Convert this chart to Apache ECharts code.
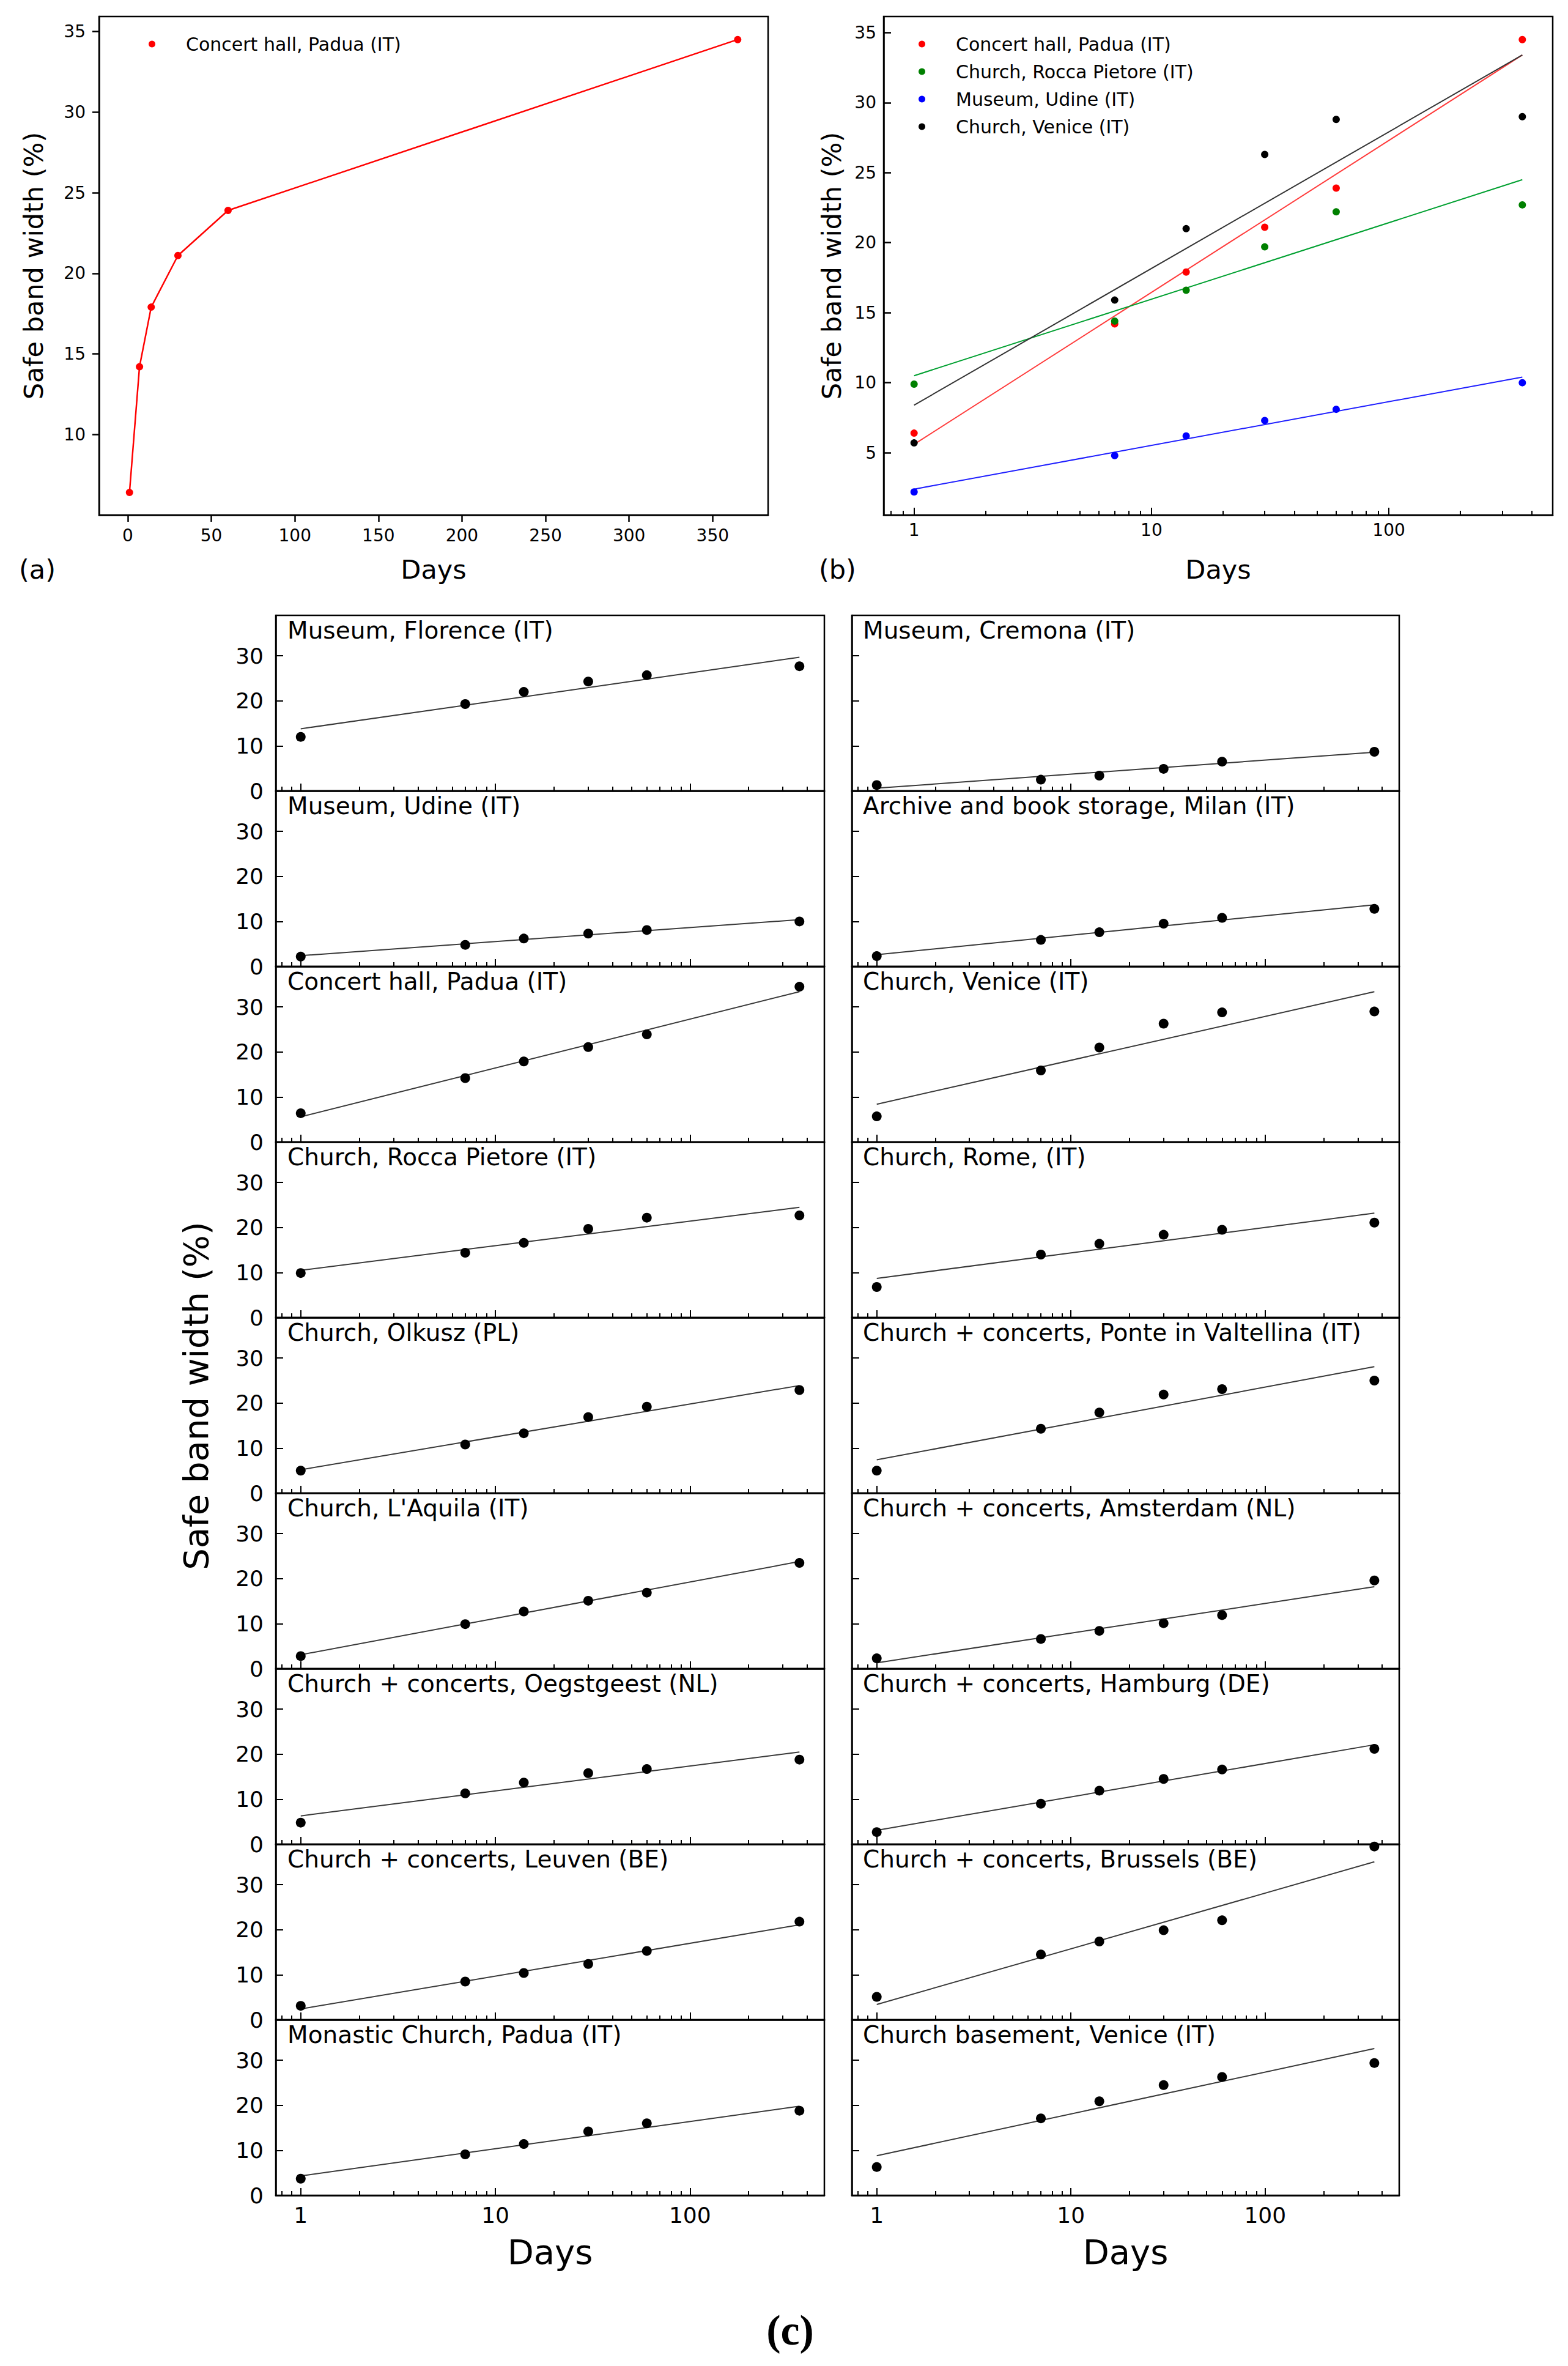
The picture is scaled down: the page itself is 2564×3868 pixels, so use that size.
<!DOCTYPE html>
<html><head><meta charset="utf-8">
<script src="https://cdn.jsdelivr.net/npm/echarts@6/dist/echarts.min.js"></script>
<style>html,body{margin:0;padding:0;background:#fff}#c{width:2564px;height:3868px}</style>
</head><body><div id="c"></div>
<script>
// ---------- data ----------
const days = [1, 7, 14, 30, 60, 365];
const fitDays = [1, 365];
const linearXTicks = [0, 50, 100, 150, 200, 250, 300, 350];
const aYTicks = [10, 15, 20, 25, 30, 35];
const bYTicks = [5, 10, 15, 20, 25, 30, 35];
const logMajorTicks = [1, 10, 100];
const logMinorTicks = [0.8, 0.9, 2, 3, 4, 5, 6, 7, 8, 9, 20, 30, 40, 50, 60, 70, 80, 90, 200, 300, 400];
const cYTicks = [0, 10, 20, 30];

// series values (safe band width, %) at each day
const paduaHall      = [6.4, 14.2, 17.9, 21.1, 23.9, 34.5];
const roccaPietore   = [9.9, 14.4, 16.6, 19.7, 22.2, 22.7];
const udineMuseum    = [2.2, 4.8, 6.2, 7.3, 8.1, 10.0];
const veniceChurch   = [5.7, 15.9, 21.0, 26.3, 28.8, 29.0];
const florence       = [12.0, 19.3, 22.0, 24.3, 25.7, 27.7];
const olkusz         = [5.0, 10.8, 13.3, 16.9, 19.2, 22.9];
const lAquila        = [2.8, 9.9, 12.7, 15.1, 16.9, 23.5];
const oegstgeest     = [4.8, 11.3, 13.7, 15.8, 16.7, 18.8];
const leuven         = [3.1, 8.5, 10.4, 12.4, 15.3, 21.8];
const monasticPadua  = [3.7, 9.1, 11.4, 14.2, 16.0, 18.8];
const cremona        = [1.3, 2.5, 3.4, 4.9, 6.5, 8.7];
const milan          = [2.3, 5.9, 7.6, 9.5, 10.8, 12.8];
const rome           = [6.8, 14.0, 16.4, 18.4, 19.5, 21.1];
const ponte          = [5.0, 14.3, 17.9, 21.9, 23.1, 25.0];
const amsterdam      = [2.3, 6.6, 8.4, 10.1, 11.9, 19.6];
const hamburg        = [2.7, 9.0, 11.9, 14.5, 16.6, 21.2];
const brussels       = [5.1, 14.5, 17.4, 19.9, 22.1, 38.5];
const veniceBasement = [6.3, 17.1, 20.9, 24.5, 26.3, 29.4];

// fitted log-lines: value at day 1 and at day 365
const paduaHallFit      = [5.6, 33.4];
const roccaPietoreFit   = [10.5, 24.5];
const udineMuseumFit    = [2.4, 10.4];
const veniceChurchFit   = [8.4, 33.4];
const florenceFit       = [13.8, 29.7];
const olkuszFit         = [5.2, 23.9];
const lAquilaFit        = [3.1, 23.8];
const oegstgeestFit     = [6.3, 20.5];
const leuvenFit         = [2.4, 21.1];
const monasticPaduaFit  = [4.3, 19.8];
const cremonaFit        = [0.6, 8.6];
const milanFit          = [2.6, 13.7];
const romeFit           = [8.7, 23.2];
const ponteFit          = [7.4, 28.1];
const amsterdamFit      = [1.3, 18.2];
const hamburgFit        = [3.1, 22.1];
const brusselsFit       = [3.4, 35.1];
const veniceBasementFit = [8.8, 32.6];

const leftPanels = [
  ['Museum, Florence (IT)', florence, florenceFit],
  ['Museum, Udine (IT)', udineMuseum, udineMuseumFit],
  ['Concert hall, Padua (IT)', paduaHall, paduaHallFit],
  ['Church, Rocca Pietore (IT)', roccaPietore, roccaPietoreFit],
  ['Church, Olkusz (PL)', olkusz, olkuszFit],
  ["Church, L'Aquila (IT)", lAquila, lAquilaFit],
  ['Church + concerts, Oegstgeest (NL)', oegstgeest, oegstgeestFit],
  ['Church + concerts, Leuven (BE)', leuven, leuvenFit],
  ['Monastic Church, Padua (IT)', monasticPadua, monasticPaduaFit]
];
const rightPanels = [
  ['Museum, Cremona (IT)', cremona, cremonaFit],
  ['Archive and book storage, Milan (IT)', milan, milanFit],
  ['Church, Venice (IT)', veniceChurch, veniceChurchFit],
  ['Church, Rome, (IT)', rome, romeFit],
  ['Church + concerts, Ponte in Valtellina (IT)', ponte, ponteFit],
  ['Church + concerts, Amsterdam (NL)', amsterdam, amsterdamFit],
  ['Church + concerts, Hamburg (DE)', hamburg, hamburgFit],
  ['Church + concerts, Brussels (BE)', brussels, brusselsFit],
  ['Church basement, Venice (IT)', veniceBasement, veniceBasementFit]
];

// ---------- layout / style ----------
const FONT = 'DejaVu Sans';
const LOG_MIN = 0.7446, LOG_MAX = 490.1;
const pts = vals => days.map((d, i) => [d, vals[i]]);
const fitPts = f => fitDays.map((d, i) => [d, f[i]]);

const grids = [], xAxes = [], yAxes = [], series = [], titles = [];
const frame = {show: true, borderColor: '#000', borderWidth: 2.5, backgroundColor: 'transparent'};
const lineBlack = {color: '#000', width: 2.5};

function logX(g, opts) {
  const idx = xAxes.length;
  xAxes.push({
    type: 'log', logBase: 10, gridIndex: g, position: 'bottom', min: LOG_MIN, max: LOG_MAX,
    axisLine: {show: true, onZero: false, lineStyle: lineBlack},
    axisTick: {show: true, inside: true, length: 12, customValues: logMajorTicks, lineStyle: {color: '#000', width: 2}},
    axisLabel: {show: opts.labels, customValues: logMajorTicks, fontSize: opts.fontSize, margin: opts.margin,
      color: '#000', fontFamily: FONT},
    minorTick: {show: false}, splitLine: {show: false},
    name: opts.name || '', nameLocation: 'middle', nameGap: opts.nameGap || 0,
    nameTextStyle: {fontSize: opts.nameSize || 20, color: '#000', fontFamily: FONT}
  });
  xAxes.push({
    type: 'log', logBase: 10, gridIndex: g, position: 'bottom', min: LOG_MIN, max: LOG_MAX,
    axisLine: {show: false},
    axisTick: {show: true, inside: true, length: 7, customValues: logMinorTicks, lineStyle: {color: '#000', width: 2}},
    axisLabel: {show: false}, minorTick: {show: false}, splitLine: {show: false}
  });
  return idx;
}

// ----- panel (a) -----
grids.push({left: 162, top: 27, width: 1094, height: 815, ...frame});
xAxes.push({
  type: 'value', gridIndex: 0, min: -17.2, max: 383.2,
  axisLine: {show: true, onZero: false, lineStyle: lineBlack},
  axisTick: {show: true, inside: false, length: 11, customValues: linearXTicks, lineStyle: {color: '#000', width: 2.5}},
  axisLabel: {customValues: linearXTicks, fontSize: 28, margin: 19, color: '#000', fontFamily: FONT},
  splitLine: {show: false},
  name: 'Days', nameLocation: 'middle', nameGap: 67, nameTextStyle: {fontSize: 43, color: '#000', fontFamily: FONT}
});
yAxes.push({
  type: 'value', gridIndex: 0, min: 5.0, max: 35.93,
  axisLine: {show: true, onZero: false, lineStyle: lineBlack},
  axisTick: {show: true, inside: false, length: 11, customValues: aYTicks, lineStyle: {color: '#000', width: 2.5}},
  axisLabel: {customValues: aYTicks, fontSize: 28, margin: 22, color: '#000', fontFamily: FONT},
  splitLine: {show: false},
  name: 'Safe band width (%)', nameLocation: 'middle', nameGap: 86, nameTextStyle: {fontSize: 43, color: '#000', fontFamily: FONT}
});
series.push({
  name: 'Concert hall, Padua (IT)', type: 'line', xAxisIndex: 0, yAxisIndex: 0,
  data: pts(paduaHall), symbol: 'circle', symbolSize: 12, showAllSymbol: true,
  lineStyle: {color: '#ff0000', width: 2.5}, itemStyle: {color: '#ff0000', opacity: 1}
});

// ----- panel (b) -----
grids.push({left: 1445, top: 27, width: 1094, height: 815, ...frame});
const bx = logX(1, {labels: true, fontSize: 28, margin: 10, name: 'Days', nameGap: 67, nameSize: 43});
yAxes.push({
  type: 'value', gridIndex: 1, min: 0.55, max: 36.15,
  axisLine: {show: true, onZero: false, lineStyle: lineBlack},
  axisTick: {show: true, inside: true, length: 12, customValues: bYTicks, lineStyle: {color: '#000', width: 2.5}},
  axisLabel: {customValues: bYTicks, fontSize: 28, margin: 12, color: '#000', fontFamily: FONT},
  splitLine: {show: false},
  name: 'Safe band width (%)', nameLocation: 'middle', nameGap: 64, nameTextStyle: {fontSize: 43, color: '#000', fontFamily: FONT}
});
const bSets = [
  ['Concert hall, Padua (IT)', paduaHall, paduaHallFit, '#ff0000', '#ff3b3b'],
  ['Church, Rocca Pietore (IT)', roccaPietore, roccaPietoreFit, '#008000', '#00a030'],
  ['Museum, Udine (IT)', udineMuseum, udineMuseumFit, '#0000ff', '#2020ff'],
  ['Church, Venice (IT)', veniceChurch, veniceChurchFit, '#000000', '#333333']
];
bSets.forEach(([name, vals, fit, c, fc]) => {
  series.push({name: name + ' fit', type: 'line', xAxisIndex: bx, yAxisIndex: 1, data: fitPts(fit),
    showSymbol: false, lineStyle: {color: fc, width: 2}, z: 2});
});
bSets.forEach(([name, vals, fit, c]) => {
  series.push({name, type: 'scatter', xAxisIndex: bx, yAxisIndex: 1, data: pts(vals),
    symbol: 'circle', symbolSize: 12, itemStyle: {color: c, opacity: 1}, z: 3});
});

// ----- panel (c) -----
const ROW_TOP = 1006, ROW_H = 287;
const cols = [{panels: leftPanels, left: 451, width: 897, titleX: 470, yLabels: true},
              {panels: rightPanels, left: 1393, width: 895, titleX: 1411, yLabels: false}];
cols.forEach(col => {
  col.panels.forEach(([title, vals, fit], r) => {
    const g = grids.length;
    const top = ROW_TOP + r * ROW_H;
    grids.push({left: col.left, top: top, width: col.width, height: ROW_H, ...frame});
    const last = r === col.panels.length - 1;
    const xi = logX(g, {labels: last, fontSize: 36, margin: 14, name: last ? 'Days' : '', nameGap: 64, nameSize: 56});
    const yi = yAxes.length;
    yAxes.push({
      type: 'value', gridIndex: g, min: 0, max: 39,
      axisLine: {show: true, onZero: false, lineStyle: lineBlack},
      axisTick: {show: true, inside: true, length: 12, customValues: cYTicks, lineStyle: {color: '#000', width: 2}},
      axisLabel: {show: col.yLabels, customValues: cYTicks, fontSize: 36, margin: 20, color: '#000', fontFamily: FONT},
      splitLine: {show: false}
    });
    titles.push({text: title, left: col.titleX, top: top + 4.5, padding: 0,
      textStyle: {fontSize: 39, fontWeight: 'normal', color: '#000', fontFamily: FONT}});
    series.push({name: title + ' fit', type: 'line', xAxisIndex: xi, yAxisIndex: yi, data: fitPts(fit),
      showSymbol: false, lineStyle: {color: '#3a3a3a', width: 2}, z: 2});
    series.push({name: title + ' data', type: 'scatter', xAxisIndex: xi, yAxisIndex: yi, data: pts(vals),
      symbol: 'circle', symbolSize: 16, itemStyle: {color: '#000', opacity: 1}, z: 3});
  });
});

const legendText = {fontSize: 30, color: '#000', fontFamily: FONT, padding: [0, 0, 0, 45], lineHeight: 30};
const option = {
  animation: false,
  backgroundColor: '#fff',
  grid: grids, xAxis: xAxes, yAxis: yAxes, series: series, title: titles,
  legend: [
    {data: ['Concert hall, Padua (IT)'], left: 238, top: 52, orient: 'vertical', icon: 'circle',
      itemWidth: 11, itemHeight: 11, textStyle: legendText, selectedMode: false},
    {data: bSets.map(s => s[0]), left: 1497, top: 52, orient: 'vertical', icon: 'circle',
      itemWidth: 11, itemHeight: 11, itemGap: 15, textStyle: legendText, selectedMode: false}
  ],
  graphic: [
    {type: 'text', x: 31, y: 931, style: {text: '(a)', fontSize: 43, fontFamily: FONT, fill: '#000', verticalAlign: 'middle'}},
    {type: 'text', x: 1339, y: 931, style: {text: '(b)', fontSize: 43, fontFamily: FONT, fill: '#000', verticalAlign: 'middle'}},
    {type: 'text', x: 1292, y: 3809, style: {text: '(c)', fontSize: 70, fontWeight: 'bold', fontFamily: 'Liberation Serif', fill: '#000', align: 'center', verticalAlign: 'middle'}},
    {type: 'text', x: 320, y: 2282, rotation: Math.PI / 2, style: {text: 'Safe band width (%)', fontSize: 56, fontFamily: FONT, fill: '#000', align: 'center', verticalAlign: 'middle'}}
  ]
};
const chart = echarts.init(document.getElementById('c'), null, {renderer: 'svg'});
chart.setOption(option);
</script></body></html>
